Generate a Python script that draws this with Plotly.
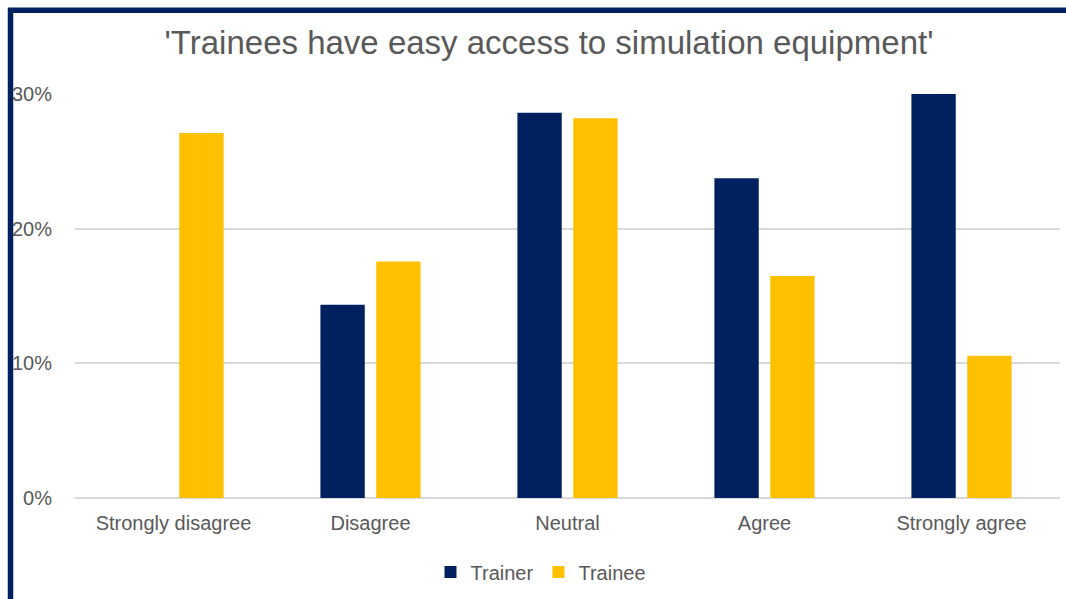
import plotly.graph_objects as go

# Survey responses: share of each group choosing each answer
categories = ["Strongly disagree", "Disagree", "Neutral", "Agree", "Strongly agree"]
trainer = [0.0, 0.1435, 0.286, 0.2375, 0.300]
trainee = [0.271, 0.1757, 0.282, 0.1648, 0.1056]
y_ticks = [0, 0.1, 0.2, 0.3]
y_tick_text = ["0%", "10%", "20%", "30%"]

NAVY = "#002060"
GOLD = "#FFC000"
GREY_TEXT = "#595959"
FONT = "Liberation Sans, Arial, sans-serif"

W, H = 1066, 599
M_L, M_R, M_T, M_B = 75, 6, 94, 101

fig = go.Figure()
fig.add_trace(go.Bar(name="Trainer", x=categories, y=trainer,
                     marker=dict(color=NAVY, line=dict(width=0))))
fig.add_trace(go.Bar(name="Trainee", x=categories, y=trainee,
                     marker=dict(color=GOLD, line=dict(width=0))))

plot_w = W - M_L - M_R
plot_h = H - M_T - M_B


def px_to_paper_x(px):
    return (px - M_L) / plot_w


def px_to_paper_y(py):
    return (H - M_B - py) / plot_h


fig.update_layout(
    width=W, height=H,
    margin=dict(l=M_L, r=M_R, t=M_T, b=M_B),
    paper_bgcolor="white", plot_bgcolor="white",
    barmode="group", bargap=0.433, bargroupgap=0.206,
    font=dict(family=FONT, color=GREY_TEXT, size=20),
    title=dict(
        text="'Trainees have easy access to simulation equipment'",
        font=dict(family=FONT, size=33, color=GREY_TEXT),
        x=549 / W, xanchor="center",
        y=1 - 42 / H, yanchor="middle",
        xref="container", yref="container",
    ),
    xaxis=dict(
        showgrid=False, zeroline=False, showline=False,
        tickfont=dict(size=20, color=GREY_TEXT),
        ticks="", ticklabelstandoff=11,
    ),
    yaxis=dict(
        range=[0, 0.30],
        tickvals=y_ticks, ticktext=y_tick_text,
        showgrid=True, gridcolor="#D9D9D9", gridwidth=2,
        zeroline=True, zerolinecolor="#D9D9D9", zerolinewidth=2,
        showline=False, ticks="",
        tickfont=dict(size=20, color=GREY_TEXT),
        ticklabelstandoff=22,
    ),
    legend=dict(
        orientation="h",
        x=541 / W, xanchor="center", xref="container",
        y=1 - 572 / H, yanchor="middle", yref="container",
        font=dict(size=20, color=GREY_TEXT),
        itemwidth=30, traceorder="normal",
    ),
    showlegend=True,
)

# Navy frame around the chart, running off the right and bottom edges
fig.add_shape(
    type="rect", xref="paper", yref="paper",
    x0=px_to_paper_x(10.5), x1=px_to_paper_x(W + 20),
    y0=px_to_paper_y(H + 20), y1=px_to_paper_y(10.3),
    line=dict(color=NAVY, width=5.5), fillcolor="rgba(0,0,0,0)",
    layer="above",
)

fig.write_html("out.html")
